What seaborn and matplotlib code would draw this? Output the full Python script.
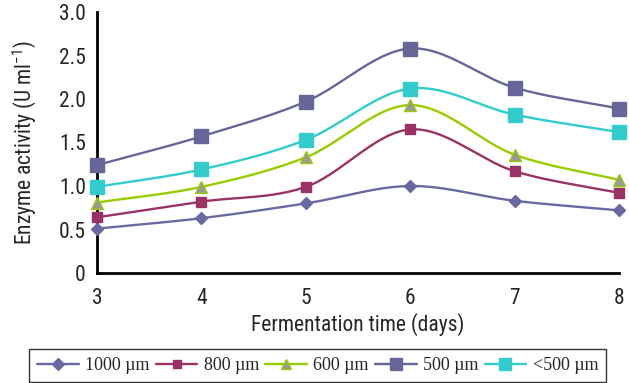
import numpy as np
import pandas as pd
import matplotlib
matplotlib.use("Agg")
import matplotlib.pyplot as plt
import seaborn as sns
from matplotlib.lines import Line2D
from matplotlib import font_manager

days = [3, 4, 5, 6, 7, 8]
s1000 = [0.51, 0.63, 0.80, 1.00, 0.83, 0.72]
s800 = [0.64, 0.82, 0.99, 1.65, 1.17, 0.92]
s600 = [0.81, 0.99, 1.33, 1.93, 1.36, 1.07]
s500 = [1.24, 1.57, 1.97, 2.58, 2.13, 1.89]
slt500 = [0.99, 1.19, 1.53, 2.12, 1.82, 1.62]
labels = ["1000 \u00b5m", "800 \u00b5m", "600 \u00b5m", "500 \u00b5m", "<500 \u00b5m"]
yticks = [0, 0.5, 1.0, 1.5, 2.0, 2.5, 3.0]
yticklabels = ["0", "0.5", "1.0", "1.5", "2.0", "2.5", "3.0"]

sns.set_theme(style="white")
names = {f.name for f in font_manager.fontManager.ttflist}
sans = [n for n in ["Liberation Sans Narrow", "Roboto Condensed", "Open Sans Condensed"] if n in names]
plt.rcParams['font.family'] = sans + ['Liberation Sans', 'DejaVu Sans']
plt.rcParams['mathtext.default'] = 'regular'

fig = plt.figure(figsize=(6.29, 3.83), dpi=100)
ax = fig.add_axes([97/629, 1-273/383, (619-97)/629, (273-12)/383])

styles = [
    dict(color="#6869A3", marker="D", ms=6, mfc="#6869A3", mec="#6869A3"),
    dict(color="#993366", marker="s", ms=6.5, mfc="#993366", mec="#993366"),
    dict(color="#99CC00", marker="^", ms=8, mfc="#999999", mec="#99CC00"),
    dict(color="#666699", marker="s", ms=9.5, mfc="#666699", mec="#666699"),
    dict(color="#33CCCC", marker="s", ms=9.5, mfc="#33CCCC", mec="#33CCCC"),
]
series = [s1000, s800, s600, s500, slt500]


def smooth(x, y, n=30, t=0.5):
    x = np.asarray(x, float); y = np.asarray(y, float)
    px = np.concatenate([[2*x[0]-x[1]], x, [2*x[-1]-x[-2]]])
    py = np.concatenate([[2*y[0]-y[1]], y, [2*y[-1]-y[-2]]])
    xs, ys = [], []
    for i in range(1, len(px)-2):
        p0 = np.array([px[i-1], py[i-1]]); p1 = np.array([px[i], py[i]])
        p2 = np.array([px[i+1], py[i+1]]); p3 = np.array([px[i+2], py[i+2]])
        c1 = p1 + (p2 - p0) * t / 3
        c2 = p2 - (p3 - p1) * t / 3
        u = np.linspace(0, 1, n)[:, None]
        b = (1-u)**3*p1 + 3*(1-u)**2*u*c1 + 3*(1-u)*u**2*c2 + u**3*p2
        xs.extend(b[:, 0]); ys.extend(b[:, 1])
    return np.array(xs), np.array(ys)

handles = []
for vals, st, lab in zip(series, styles, labels):
    xs, ys = smooth(days, vals)
    df = pd.DataFrame({"x": xs, "y": ys})
    sns.lineplot(data=df, x="x", y="y", ax=ax, color=st["color"], lw=1.7, sort=False,
                 estimator=None, clip_on=False)
    ax.plot(days, vals, ls="none", marker=st["marker"], ms=st["ms"], mfc=st["mfc"],
            mec=st["mec"], mew=1, clip_on=False, zorder=5)
    handles.append(Line2D([0], [0], color=st["color"], lw=1.7, marker=st["marker"],
                          ms=st["ms"]*0.95, mfc=st["mfc"], mec=st["mec"]))

ax.set_xlim(3, 8)
ax.set_ylim(0, 3)
ax.set_xticks(days)
ax.set_xticklabels([str(d) for d in days], fontsize=15.5)
ax.set_yticks(yticks)
ax.set_yticklabels(yticklabels, fontsize=15.5)
ax.tick_params(axis="both", direction="out", length=4, width=1.0, color="black")
ax.tick_params(axis="y", pad=4)
ax.tick_params(axis="x", pad=7)
for s in ["top", "right"]:
    ax.spines[s].set_visible(False)
for s in ["left", "bottom"]:
    ax.spines[s].set_color("black")
    ax.spines[s].set_linewidth(2)
ax.set_xlabel("Fermentation time (days)", fontsize=15.5, labelpad=3)
ax.set_ylabel("Enzyme activity (U ml$^{-1}$)", fontsize=15.5, labelpad=15)

leg = fig.legend(handles, labels, loc="upper center", bbox_to_anchor=(0.505, 1-349/383),
                 ncol=5, frameon=True, fancybox=False, handlelength=2.3, handletextpad=0.35,
                 columnspacing=0.35, borderpad=0.45, borderaxespad=0,
                 prop={"family": "Liberation Serif", "size": 13})
leg.get_frame().set_edgecolor("black")
leg.get_frame().set_linewidth(1)

fig.savefig("out.png", dpi=100)
